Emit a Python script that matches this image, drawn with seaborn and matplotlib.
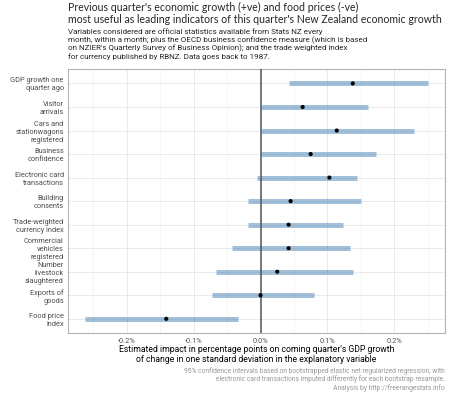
import numpy as np
import pandas as pd
import matplotlib
matplotlib.use("Agg")
import matplotlib.pyplot as plt
import seaborn as sns
from matplotlib.ticker import MultipleLocator, FuncFormatter

variables = [
    "GDP growth one\nquarter ago",
    "Visitor\narrivals",
    "Cars and\nstationwagons\nregistered",
    "Business\nconfidence",
    "Electronic card\ntransactions",
    "Building\nconsents",
    "Trade-weighted\ncurrency index",
    "Commercial\nvehicles\nregistered",
    "Number\nlivestock\nslaughtered",
    "Exports of\ngoods",
    "Food price\nindex",
]
lower = [0.043, 0.0, 0.0, 0.0, -0.005, -0.019, -0.019, -0.042, -0.067, -0.072, -0.263]
upper = [0.251, 0.161, 0.230, 0.173, 0.145, 0.150, 0.124, 0.134, 0.138, 0.080, -0.034]
estimate = [0.138, 0.063, 0.114, 0.075, 0.103, 0.045, 0.042, 0.042, 0.025, 0.0, -0.141]

df = pd.DataFrame({"variable": variables, "lower": lower,
                   "upper": upper, "estimate": estimate})

sns.set_theme(style="white")
plt.rcParams["font.family"] = ["Roboto", "DejaVu Sans"]

fig = plt.figure(figsize=(4.5, 3.94), dpi=100)
ax = fig.add_axes([0.151, 0.155, 0.838, 0.669])

pos = np.arange(len(df))
ax.hlines(pos, df["lower"], df["upper"], color="steelblue", alpha=0.5,
          linewidth=3.6, zorder=2)
ax.axvline(0, color="#555555", linewidth=1.1, zorder=3)
sns.scatterplot(data=df, x="estimate", y="variable", color="black", s=9,
                edgecolor="none", zorder=4, ax=ax)

ax.set_xlim(-0.288, 0.276)
ax.set_ylim(len(df) - 0.4, -0.6)
ax.xaxis.set_major_locator(MultipleLocator(0.1))
ax.xaxis.set_minor_locator(MultipleLocator(0.05))
ax.xaxis.set_major_formatter(FuncFormatter(lambda v, p: f"{v:.1f}%"))
ax.grid(which="major", color="#e6e6e6", linewidth=0.6, zorder=0)
ax.grid(which="minor", axis="x", color="#f2f2f2", linewidth=0.5, zorder=0)
ax.set_axisbelow(True)
for s in ax.spines.values():
    s.set_color("#b3b3b3")
    s.set_linewidth(0.8)
ax.tick_params(axis="both", labelsize=5.3, colors="#4d4d4d", length=0, pad=3)
ax.tick_params(axis="x", length=2, color="#b3b3b3", pad=2)
for lab in ax.get_yticklabels():
    lab.set_ha("right")
    lab.set_multialignment("right")
    lab.set_linespacing(1.2)
ax.set_ylabel("")
ax.set_xlabel("Estimated impact in percentage points on coming quarter's GDP growth\n"
              "of change in one standard deviation in the explanatory variable",
              fontsize=6.2, color="black", labelpad=0, linespacing=1.1)

fig.text(0.151, 0.995, "Previous quarter's economic growth (+ve) and food prices (-ve)\n"
         "most useful as leading indicators of this quarter's New Zealand economic growth",
         fontsize=7.6, ha="left", va="top", linespacing=1.15,
         family=["Lato", "DejaVu Sans"])
fig.text(0.151, 0.929, "Variables considered are official statistics available from Stats NZ every\n"
         "month, within a month; plus the OECD business confidence measure (which is based\n"
         "on NZIER's Quarterly Survey of Business Opinion); and the trade weighted index\n"
         "for currency published by RBNZ. Data goes back to 1987.",
         fontsize=5.8, ha="left", va="top", linespacing=1.2)
fig.text(0.989, 0.069, "95% confidence intervals based on bootstrapped elastic net regularized regression, with\n"
         "electronic card transactions imputed differently for each bootstrap resample.\n"
         "Analysis by http://freerangestats.info",
         fontsize=4.9, ha="right", va="top", color="#999999", linespacing=1.15)

fig.savefig("out.png", dpi=100)
